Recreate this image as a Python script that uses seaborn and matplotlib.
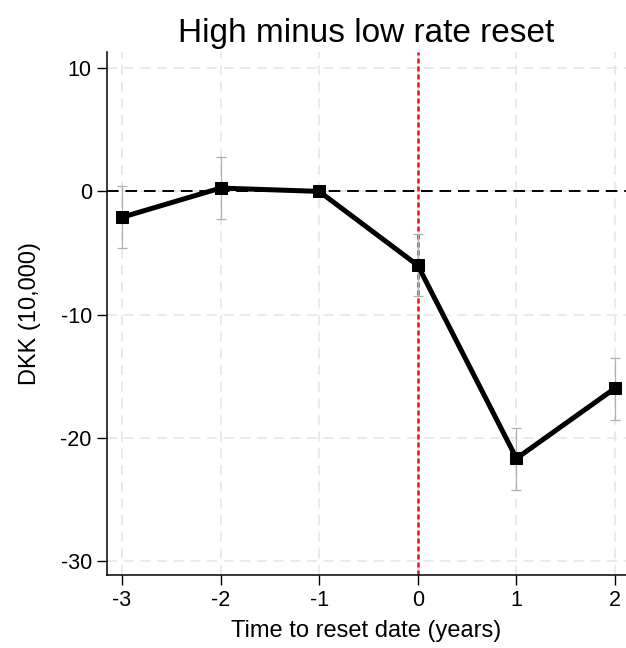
import matplotlib
matplotlib.use("Agg")
import matplotlib.pyplot as plt
import seaborn as sns
import pandas as pd
import numpy as np

years = [-3, -2, -1, 0, 1, 2]
estimate = [-2.1, 0.27, 0.0, -6.0, -21.65, -15.95]
ci_low = [-4.6, -2.2, 0.0, -8.5, -24.2, -18.5]
ci_high = [0.43, 2.8, 0.0, -3.46, -19.2, -13.5]
x_ticks = [-3, -2, -1, 0, 1, 2]
y_ticks = [10, 0, -10, -20, -30]

df = pd.DataFrame({"year": years, "est": estimate, "lo": ci_low, "hi": ci_high})

sns.set_style("white")
plt.rcParams['font.family'] = ['Liberation Sans', 'DejaVu Sans']

fig = plt.figure(figsize=(6.26, 6.48), dpi=100)
ax = fig.add_axes([0.171, 0.1127, 0.829, 0.807])

for t in x_ticks:
    ax.axvline(t, color="#e6e6e6", lw=1.2, ls=(0, (6, 4)), zorder=0)
for t in y_ticks:
    ax.axhline(t, color="#e6e6e6", lw=1.2, ls=(0, (6, 4)), zorder=0)

ax.axhline(0, color="black", lw=1.4, ls=(0, (6, 3.5)), zorder=1)
ax.axvline(0, color="#e8141c", lw=1.8, ls=(0, (2, 1.2)), zorder=1)

sub = df[df["lo"] != df["hi"]]
ax.errorbar(sub["year"], sub["est"],
            yerr=[sub["est"] - sub["lo"], sub["hi"] - sub["est"]],
            fmt="none", ecolor="#b0b0b0", elinewidth=0.9, capsize=3.5, capthick=0.9, zorder=2)

sns.lineplot(data=df, x="year", y="est", ax=ax, color="black", lw=3.6,
             marker="s", markersize=8, markeredgecolor="black", zorder=3)

ax.set_xlim(-3.15, 2.11)
ax.set_ylim(-31.1, 11.3)
ax.set_xticks(x_ticks)
ax.set_yticks(y_ticks)
ax.set_xticklabels([str(t) for t in x_ticks])
ax.set_yticklabels([str(t) for t in y_ticks])
ax.tick_params(axis="both", labelsize=15.5, length=7, width=1, color="black", direction="out", pad=4,
               bottom=True, left=True, labelcolor="black")
for s in ["top", "right"]:
    ax.spines[s].set_visible(False)
for s in ["left", "bottom"]:
    ax.spines[s].set_color("black")
    ax.spines[s].set_linewidth(1.1)

ax.set_xlabel("Time to reset date (years)", fontsize=17, labelpad=6, color="black")
ax.set_ylabel("DKK (10,000)", fontsize=17, labelpad=14, color="black")
ax.set_title("High minus low rate reset", fontsize=24, pad=7, color="black")

fig.savefig("out.png", dpi=100)
